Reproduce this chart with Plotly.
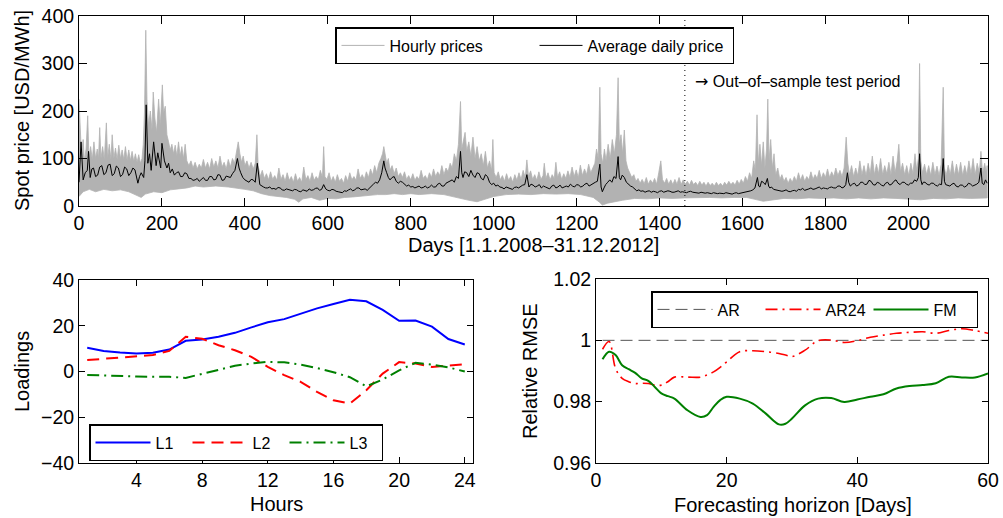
import plotly.graph_objects as go

# ---------------- Top panel: spot prices ----------------
avg_pts = [(0, 50), (5, 135), (10, 55), (15, 70), (20, 75), (23, 115), (27, 60), (31, 78), (35, 80), (40, 62), (45, 65), (50, 82), (55, 85), (60, 66), (65, 70), (70, 86),
           (75, 88), (80, 64), (85, 68), (90, 84), (95, 80), (100, 62), (105, 66), (110, 82), (115, 78), (120, 64), (125, 70), (130, 80), (135, 76), (142, 48),
           (146, 62), (150, 70), (156, 60), (159, 95), (162, 213), (166, 90), (170, 110), (174, 75), (180, 135), (186, 85), (190, 112), (193, 100), (197, 80), (200, 132),
           (206, 95), (212, 80), (216, 90), (220, 70), (225, 78), (230, 65), (235, 70), (240, 72), (245, 62), (250, 62), (255, 70), (260, 68), (265, 58), (270, 58), (275, 54),
           (280, 55), (285, 58), (290, 52), (295, 56), (300, 60), (305, 54), (310, 54), (315, 62), (320, 62), (325, 55), (330, 56), (335, 66), (340, 65), (345, 54),
           (350, 55), (355, 63), (360, 62), (365, 60), (370, 68), (376, 75), (382, 100), (386, 80), (390, 70), (395, 60), (400, 55), (405, 52), (410, 50), (415, 56),
           (420, 55), (425, 50), (430, 90), (436, 45), (440, 42), (445, 40), (450, 38), (455, 38), (460, 40), (465, 36), (470, 37), (475, 35), (480, 39), (485, 38),
           (490, 34), (495, 33), (500, 36), (505, 35), (510, 33), (515, 32), (520, 35), (525, 34), (530, 31), (535, 30), (540, 34), (545, 33), (550, 31), (555, 36),
           (560, 33), (565, 34), (570, 37), (575, 38), (580, 33), (585, 35), (590, 45), (595, 36), (600, 33), (605, 32), (610, 35), (615, 34), (620, 31), (625, 30),
           (630, 29), (635, 28), (640, 32), (645, 31), (650, 34), (655, 36), (660, 32), (665, 34), (670, 38), (675, 38), (680, 34), (685, 35), (690, 36), (695, 33),
           (700, 38), (705, 42), (710, 46), (715, 50), (720, 48), (725, 55), (730, 70), (735, 95), (738, 80), (742, 70), (746, 60), (750, 55), (755, 60), (760, 62),
           (765, 52), (770, 48), (775, 52), (780, 50), (785, 45), (790, 42), (795, 44), (800, 40), (805, 41), (810, 38), (815, 40), (820, 42), (825, 38), (830, 39),
           (835, 42), (840, 38), (845, 40), (850, 44), (855, 40), (860, 40), (865, 46), (870, 48), (875, 42), (880, 42), (885, 48), (890, 50), (895, 52), (900, 55),
           (905, 50), (910, 62), (915, 58), (920, 115), (923, 70), (926, 60), (930, 72), (935, 70), (940, 62), (945, 75), (950, 65), (955, 60), (960, 70), (965, 68),
           (970, 58), (975, 55), (980, 66), (985, 62), (990, 50), (995, 45), (1000, 48), (1005, 42), (1010, 44), (1015, 40), (1020, 39), (1025, 36), (1030, 40),
           (1035, 38), (1040, 36), (1045, 35), (1050, 39), (1055, 40), (1060, 38), (1065, 42), (1070, 44), (1075, 45), (1080, 66), (1085, 40), (1090, 46), (1095, 44),
           (1100, 40), (1105, 42), (1110, 45), (1115, 38), (1120, 42), (1125, 40), (1130, 38), (1135, 36), (1140, 42), (1145, 44), (1150, 38), (1155, 40), (1160, 44),
           (1165, 38), (1170, 40), (1175, 42), (1180, 40), (1185, 46), (1190, 42), (1195, 40), (1200, 45), (1205, 44), (1210, 40), (1215, 42), (1220, 46), (1225, 48),
           (1230, 42), (1235, 45), (1240, 48), (1245, 50), (1250, 52), (1256, 88), (1259, 40), (1262, 30), (1266, 38), (1270, 45), (1275, 50), (1280, 55), (1285, 50),
           (1290, 62), (1295, 58), (1300, 104), (1303, 60), (1306, 55), (1310, 65), (1315, 60), (1320, 50), (1325, 45), (1330, 42), (1335, 40), (1340, 36), (1345, 32),
           (1350, 34), (1355, 31), (1360, 32), (1365, 29), (1370, 31), (1375, 32), (1380, 29), (1385, 31), (1390, 30), (1395, 28), (1400, 31), (1405, 32), (1410, 29),
           (1415, 30), (1420, 32), (1425, 31), (1430, 29), (1435, 29), (1440, 31), (1445, 32), (1450, 29), (1455, 30), (1460, 29), (1465, 28), (1470, 30), (1475, 31),
           (1480, 29), (1485, 28), (1490, 28), (1495, 27), (1500, 29), (1505, 28), (1510, 27), (1515, 28), (1520, 27), (1525, 26), (1530, 28), (1535, 27), (1540, 26),
           (1545, 27), (1550, 27), (1555, 26), (1560, 28), (1565, 27), (1570, 26), (1575, 25), (1580, 27), (1585, 28), (1590, 26), (1595, 27), (1600, 28), (1605, 28),
           (1610, 29), (1615, 30), (1620, 32), (1625, 34), (1630, 38), (1636, 60), (1639, 42), (1642, 40), (1646, 52), (1650, 50), (1655, 45), (1660, 58), (1663, 42),
           (1666, 38), (1670, 40), (1675, 35), (1680, 34), (1685, 33), (1690, 32), (1695, 31), (1700, 32), (1705, 34), (1710, 31), (1715, 30), (1720, 32), (1725, 33),
           (1730, 31), (1735, 35), (1740, 34), (1745, 37), (1750, 33), (1755, 34), (1760, 36), (1765, 38), (1770, 35), (1775, 36), (1780, 38), (1785, 40), (1790, 36),
           (1795, 38), (1800, 37), (1805, 36), (1810, 39), (1815, 40), (1820, 38), (1825, 38), (1830, 42), (1835, 42), (1840, 38), (1845, 40), (1849, 45), (1853, 70),
           (1856, 50), (1860, 42), (1865, 46), (1870, 48), (1875, 42), (1880, 44), (1885, 50), (1890, 50), (1895, 45), (1900, 46), (1905, 54), (1910, 52), (1915, 45),
           (1920, 44), (1925, 50), (1930, 48), (1935, 44), (1940, 42), (1945, 48), (1950, 50), (1955, 44), (1960, 46), (1965, 52), (1970, 55), (1975, 48), (1980, 45),
           (1985, 50), (1990, 50), (1995, 46), (2000, 44), (2005, 48), (2010, 48), (2015, 55), (2020, 52), (2024, 60), (2027, 110), (2030, 55), (2033, 45), (2036, 50),
           (2040, 50), (2045, 46), (2050, 44), (2055, 48), (2060, 48), (2065, 44), (2070, 42), (2075, 46), (2080, 45), (2084, 100), (2087, 52), (2090, 45), (2095, 44),
           (2100, 42), (2105, 46), (2110, 48), (2115, 42), (2120, 40), (2125, 44), (2130, 44), (2135, 40), (2140, 42), (2145, 48), (2150, 46), (2155, 42), (2160, 44),
           (2165, 46), (2170, 50), (2175, 80), (2178, 48), (2182, 45), (2186, 55), (2190, 48)]

hi_pts = [(0, 225), (3, 150), (6, 105), (10, 140), (13, 95), (17, 120), (21, 190), (24, 100), (28, 125), (32, 98), (36, 135), (40, 100), (44, 120), (47, 100),
          (50, 165), (53, 100), (57, 125), (61, 98), (66, 175), (69, 100), (73, 130), (77, 98), (80, 150), (84, 100), (88, 122), (92, 98), (96, 128), (100, 100),
          (104, 118), (108, 98), (112, 125), (116, 96), (120, 118), (124, 96), (128, 115), (132, 94), (136, 110), (140, 92), (144, 108), (148, 90), (152, 100),
          (155, 130), (158, 200), (161, 370), (164, 220), (168, 170), (172, 200), (176, 160), (179, 240), (183, 185), (187, 155), (192, 225), (196, 170), (201, 255),
          (204, 195), (208, 210), (212, 150), (216, 135), (220, 118), (224, 130), (228, 110), (232, 128), (236, 105), (240, 135), (244, 105), (248, 125), (252, 100),
          (256, 130), (260, 95), (265, 85), (270, 95), (275, 80), (280, 92), (285, 78), (290, 88), (295, 80), (300, 98), (305, 80), (310, 92), (315, 78), (320, 100),
          (325, 82), (330, 95), (335, 80), (340, 105), (345, 82), (350, 92), (355, 78), (360, 98), (365, 82), (370, 100), (375, 90), (380, 120), (384, 135), (388, 110),
          (392, 92), (396, 105), (400, 85), (405, 95), (410, 80), (415, 92), (420, 78), (425, 90), (429, 150), (432, 85), (437, 62), (442, 75), (447, 58), (452, 68),
          (457, 55), (462, 72), (467, 56), (472, 64), (477, 54), (482, 80), (487, 56), (492, 66), (497, 52), (502, 70), (507, 54), (512, 62), (517, 50), (522, 68),
          (527, 52), (532, 60), (537, 50), (542, 82), (547, 55), (552, 64), (557, 52), (562, 70), (567, 54), (572, 62), (577, 55), (582, 75), (587, 60), (590, 125),
          (593, 62), (598, 56), (603, 70), (608, 52), (613, 62), (618, 50), (623, 66), (628, 52), (633, 58), (638, 48), (643, 64), (648, 52), (653, 70), (658, 55),
          (663, 62), (668, 54), (673, 78), (678, 58), (683, 66), (688, 56), (693, 72), (698, 60), (703, 78), (708, 65), (713, 85), (718, 70), (723, 90), (728, 100),
          (732, 110), (735, 125), (738, 105), (742, 90), (746, 100), (750, 75), (755, 85), (760, 68), (765, 80), (770, 62), (775, 70), (780, 60), (785, 72), (790, 56),
          (795, 64), (800, 55), (805, 68), (810, 54), (815, 62), (820, 56), (825, 75), (830, 58), (835, 64), (840, 55), (845, 70), (850, 60), (855, 78), (860, 62),
          (865, 72), (870, 64), (875, 85), (880, 66), (885, 80), (890, 72), (895, 90), (900, 80), (905, 110), (910, 95), (915, 130), (920, 220), (923, 120), (927, 140),
          (931, 155), (935, 115), (940, 135), (945, 105), (950, 145), (955, 100), (960, 125), (965, 95), (970, 110), (975, 85), (980, 115), (985, 80), (990, 95),
          (995, 75), (998, 140), (1001, 70), (1006, 60), (1011, 72), (1016, 55), (1021, 64), (1026, 52), (1031, 68), (1036, 54), (1041, 62), (1046, 50), (1051, 66),
          (1056, 54), (1061, 70), (1066, 56), (1071, 75), (1076, 60), (1080, 97), (1084, 62), (1089, 74), (1094, 56), (1099, 66), (1104, 54), (1109, 72), (1114, 56),
          (1119, 64), (1122, 90), (1126, 58), (1131, 70), (1136, 55), (1141, 66), (1146, 58), (1150, 92), (1154, 60), (1159, 72), (1164, 56), (1169, 68), (1174, 58),
          (1179, 74), (1184, 60), (1189, 82), (1194, 62), (1199, 76), (1204, 60), (1209, 86), (1214, 64), (1219, 78), (1224, 66), (1229, 88), (1234, 70), (1239, 82),
          (1244, 90), (1248, 120), (1252, 100), (1256, 250), (1259, 110), (1263, 90), (1267, 120), (1271, 95), (1276, 130), (1281, 100), (1286, 140), (1291, 110),
          (1296, 150), (1300, 270), (1303, 130), (1307, 150), (1311, 110), (1315, 160), (1319, 95), (1323, 80), (1328, 70), (1333, 60), (1338, 66), (1343, 52),
          (1348, 58), (1353, 48), (1358, 56), (1363, 47), (1368, 60), (1373, 46), (1378, 55), (1383, 48), (1388, 58), (1393, 46), (1398, 70), (1403, 95), (1407, 56),
          (1412, 48), (1417, 58), (1422, 46), (1427, 55), (1432, 45), (1437, 56), (1442, 46), (1447, 60), (1452, 45), (1457, 55), (1462, 46), (1467, 52), (1472, 44),
          (1477, 54), (1482, 45), (1487, 50), (1492, 43), (1497, 52), (1502, 44), (1507, 50), (1512, 42), (1517, 50), (1522, 43), (1527, 48), (1532, 42), (1537, 50),
          (1542, 43), (1547, 48), (1552, 42), (1557, 50), (1562, 44), (1567, 52), (1572, 45), (1577, 50), (1582, 44), (1587, 54), (1592, 46), (1597, 56), (1602, 48),
          (1607, 62), (1612, 52), (1617, 70), (1622, 58), (1627, 95), (1631, 75), (1635, 192), (1638, 90), (1642, 130), (1646, 85), (1650, 135), (1654, 80),
          (1658, 120), (1661, 225), (1664, 95), (1668, 140), (1672, 80), (1676, 110), (1680, 65), (1685, 80), (1690, 56), (1695, 66), (1700, 52), (1705, 60),
          (1710, 48), (1715, 58), (1720, 50), (1725, 62), (1730, 52), (1735, 70), (1740, 54), (1745, 66), (1750, 52), (1755, 62), (1760, 55), (1765, 72), (1770, 56),
          (1775, 66), (1780, 58), (1785, 75), (1790, 58), (1795, 70), (1800, 60), (1805, 78), (1810, 60), (1815, 72), (1820, 62), (1825, 80), (1830, 64), (1835, 75),
          (1840, 62), (1845, 80), (1850, 145), (1854, 90), (1858, 66), (1863, 85), (1868, 62), (1873, 80), (1878, 64), (1883, 95), (1888, 66), (1893, 85), (1898, 64),
          (1903, 90), (1908, 68), (1913, 105), (1918, 66), (1923, 88), (1928, 68), (1933, 100), (1938, 66), (1943, 85), (1948, 68), (1953, 92), (1958, 66), (1963, 105),
          (1968, 70), (1973, 95), (1977, 130), (1981, 72), (1986, 90), (1991, 66), (1996, 85), (2001, 64), (2006, 90), (2011, 68), (2016, 110), (2020, 75), (2024, 100),
          (2027, 300), (2030, 95), (2034, 70), (2039, 88), (2044, 66), (2049, 85), (2054, 64), (2059, 92), (2064, 66), (2069, 84), (2074, 64), (2079, 88), (2084, 250),
          (2087, 80), (2091, 64), (2096, 86), (2101, 66), (2106, 95), (2111, 64), (2116, 88), (2121, 66), (2126, 92), (2131, 64), (2136, 85), (2141, 66), (2146, 95),
          (2151, 68), (2156, 100), (2161, 66), (2166, 90), (2171, 70), (2175, 115), (2179, 68), (2184, 90), (2188, 70), (2190, 85)]

lo_pts = [(0, 20), (10, 30), (25, 35), (40, 30), (60, 35), (80, 32), (100, 34), (120, 30), (140, 22), (150, 18), (160, 25), (180, 30), (200, 28), (220, 34),
          (240, 36), (260, 38), (280, 42), (300, 40), (330, 42), (360, 40), (380, 38), (400, 35), (420, 32), (440, 26), (460, 22), (480, 20), (500, 18), (520, 14),
          (530, 8), (540, 15), (560, 18), (580, 12), (600, 16), (620, 15), (640, 18), (660, 19), (680, 20), (700, 22), (720, 24), (740, 24), (760, 26), (780, 24),
          (800, 26), (820, 24), (850, 26), (880, 24), (900, 20), (920, 16), (940, 12), (960, 9), (980, 14), (1000, 20), (1030, 24), (1060, 25), (1090, 24),
          (1120, 26), (1150, 25), (1180, 26), (1210, 24), (1240, 18), (1255, 8), (1262, 2), (1275, 6), (1290, 9), (1310, 12), (1340, 16), (1370, 15), (1400, 17),
          (1430, 16), (1460, 17), (1490, 18), (1520, 18), (1550, 17), (1580, 18), (1610, 18), (1630, 14), (1650, 10), (1670, 13), (1700, 16), (1730, 15), (1760, 17),
          (1790, 16), (1820, 17), (1850, 15), (1880, 17), (1910, 15), (1940, 17), (1970, 16), (2000, 15), (2030, 13), (2060, 16), (2090, 15), (2120, 17), (2150, 16),
          (2190, 17)]

avg_days = [d for d, _ in avg_pts]
avg_price = [v for _, v in avg_pts]
hi_days = [d for d, _ in hi_pts]
hi_price = [v for _, v in hi_pts]
lo_days = [d for d, _ in lo_pts]
lo_price = [v for _, v in lo_pts]

test_start = 1461

# ---------------- Bottom-left: loadings ----------------
hours = list(range(1, 25))
L1 = [10.4, 9.0, 8.3, 7.9, 8.2, 9.6, 13.4, 14.0, 15.2, 16.9, 19.3, 21.5, 22.9, 25.4, 27.6, 29.5, 31.4, 30.7, 26.9, 22.2, 22.3, 19.6, 14.2, 11.8]
L2 = [5.0, 5.5, 6.1, 6.7, 7.2, 9.0, 15.2, 14.3, 11.5, 9.3, 6.4, 2.0, -1.6, -4.5, -8.9, -12.6, -14.0, -8.2, -0.9, 4.1, 3.5, 2.0, 2.6, 3.2]
L3 = [-1.5, -1.8, -2.0, -2.2, -2.3, -2.3, -2.8, -1.0, 1.0, 2.5, 3.5, 4.2, 4.0, 3.0, 1.5, -0.3, -2.5, -6.5, -3.5, 0.5, 3.8, 3.0, 1.8, 0.0]

# ---------------- Bottom-right: relative RMSE ----------------
horizon = [1, 2, 3, 4, 5, 6, 7, 8, 9, 10, 11, 12, 14, 16, 17, 18, 19, 20, 22, 24, 26, 28, 29, 30, 32, 34, 36, 38, 40, 42, 44, 46, 48, 50, 52, 54, 56, 58, 60]
ar = [1.0] * len(horizon)
ar24 = [0.9971, 0.9996, 0.9908, 0.9876, 0.9865, 0.9859, 0.9860, 0.9859, 0.9854, 0.9854, 0.9865, 0.9880, 0.9880, 0.9880, 0.9887, 0.9897, 0.9912, 0.9930, 0.9963,
        0.9966, 0.9963, 0.9957, 0.9952, 0.9947, 0.9968, 0.9999, 1.0001, 0.9993, 0.9999, 1.0010, 1.0017, 1.0023, 1.0026, 1.0028, 1.0023, 1.0032, 1.0038, 1.0032, 1.0023]
fm = [0.9938, 0.9963, 0.9952, 0.9919, 0.9906, 0.9894, 0.9876, 0.9868, 0.9848, 0.9827, 0.9818, 0.9810, 0.9772, 0.9750, 0.9756, 0.9783, 0.9805, 0.9816, 0.9810,
      0.9794, 0.9761, 0.9726, 0.9728, 0.9745, 0.9788, 0.9810, 0.9812, 0.9799, 0.9807, 0.9816, 0.9824, 0.9843, 0.9851, 0.9854, 0.9860, 0.9881, 0.9879, 0.9879, 0.9892]

FONT = "Liberation Sans, Arial, sans-serif"
W, H = 1003, 518
GRAY = "#b2b2b2"
TICK = 19.5
TITLE = 20


def px(x):
    return x / W


def py(y):
    return 1 - y / H


fig = go.Figure()

# hourly envelope as filled polygon
fig.add_trace(go.Scatter(
    x=hi_days + lo_days[::-1], y=hi_price + lo_price[::-1],
    fill="toself", fillcolor=GRAY, line=dict(color=GRAY, width=0.8),
    mode="lines", showlegend=False, hoverinfo="skip", xaxis="x", yaxis="y"))
fig.add_trace(go.Scatter(x=avg_days, y=avg_price, mode="lines", name="Average daily price",
                         line=dict(color="black", width=1), legend="legend", legendrank=2, xaxis="x", yaxis="y"))

# loadings
fig.add_trace(go.Scatter(x=hours, y=L1, mode="lines", name="L1", line=dict(color="#0000ff", width=2),
                         legend="legend2", xaxis="x2", yaxis="y2"))
fig.add_trace(go.Scatter(x=hours, y=L2, mode="lines", name="L2", line=dict(color="#ff0000", width=2, dash="12px,7px"),
                         legend="legend2", xaxis="x2", yaxis="y2"))
fig.add_trace(go.Scatter(x=hours, y=L3, mode="lines", name="L3", line=dict(color="#008000", width=2, dash="12px,5px,2px,5px"),
                         legend="legend2", xaxis="x2", yaxis="y2"))

# RMSE
fig.add_trace(go.Scatter(x=horizon, y=ar, mode="lines", name="AR", line=dict(color="#555555", width=1, dash="12px,6px"),
                         legend="legend3", xaxis="x3", yaxis="y3"))
fig.add_trace(go.Scatter(x=horizon, y=ar24, mode="lines", name="AR24", line=dict(color="#ff0000", width=1.6, dash="12px,5px,2px,5px"),
                         legend="legend3", xaxis="x3", yaxis="y3", line_shape="spline"))
fig.add_trace(go.Scatter(x=horizon, y=fm, mode="lines", name="FM", line=dict(color="#008000", width=2),
                         legend="legend3", xaxis="x3", yaxis="y3", line_shape="spline"))

# legend entry for hourly prices (line symbol)
fig.add_trace(go.Scatter(x=[None], y=[None], mode="lines", name="Hourly prices",
                         line=dict(color=GRAY, width=1), legend="legend", legendrank=1, xaxis="x", yaxis="y"))


def ax(domain, rng, tickvals, ticktext=None, ticklen=6, anchor=None):
    d = dict(domain=domain, range=rng, tickvals=tickvals, showline=True, mirror="ticks",
             linecolor="black", linewidth=1, ticks="inside", ticklen=ticklen, tickcolor="black",
             showgrid=False, zeroline=False, tickfont=dict(size=TICK, color="black", family=FONT),
             anchor=anchor)
    if ticktext is not None:
        d["ticktext"] = ticktext
    return d


def leg(x, y, ew, iw=55):
    return dict(orientation="h", x=px(x), y=py(y), xanchor="left", yanchor="top",
                bordercolor="black", borderwidth=1.5, bgcolor="white", font=dict(size=16),
                entrywidth=ew, entrywidthmode="pixels", traceorder="normal", itemwidth=iw)


def title(text, x, y, angle=0):
    return dict(text=text, xref="paper", yref="paper", x=px(x), y=py(y), textangle=angle,
                showarrow=False, font=dict(size=TITLE), xanchor="center", yanchor="middle")


fig.update_layout(
    width=W, height=H, margin=dict(l=0, r=0, t=0, b=0, autoexpand=False),
    paper_bgcolor="white", plot_bgcolor="white",
    font=dict(family=FONT, color="black", size=16),
    xaxis=ax([px(79), px(988)], [0, 2192], list(range(0, 2001, 200)), ticklen=8, anchor="y"),
    yaxis=ax([py(206), py(16)], [0, 400], [0, 100, 200, 300, 400], ticklen=8, anchor="x"),
    xaxis2=ax([px(79), px(473)], [0.5, 24.5], [4, 8, 12, 16, 20, 24], anchor="y2"),
    yaxis2=ax([py(463), py(280)], [-40, 40], [-40, -20, 0, 20, 40], anchor="x2"),
    xaxis3=ax([px(596), px(988)], [0, 60], [0, 20, 40, 60], anchor="y3"),
    yaxis3=ax([py(463), py(279)], [0.96, 1.02], [0.96, 0.98, 1.0, 1.02], ["0.96", "0.98", "1", "1.02"], anchor="x3"),
    legend=leg(335, 27, 140, iw=43),
    legend2=leg(89, 424, 27),
    legend3=leg(651, 291, 38),
    shapes=[dict(type="line", xref="x", yref="y", x0=test_start, x1=test_start, y0=0, y1=400,
                 line=dict(color="black", width=1, dash="1px,4px"))],
    annotations=[
        dict(text="<span style='font-family:DejaVu Sans'>→</span> Out–of–sample test period", xref="x", yref="y",
             x=test_start + 20, y=263, xanchor="left", yanchor="middle", showarrow=False, font=dict(size=16)),
        title("Spot price [USD/MWh]", 22, 111, -90),
        title("Days [1.1.2008–31.12.2012]", 533, 245),
        title("Loadings", 22, 372, -90),
        title("Hours", 276, 504),
        title("Relative RMSE", 530, 371, -90),
        title("Forecasting horizon [Days]", 793, 505),
    ],
)

# remove the default 8px page margin so the 1003x518 figure fills the window exactly
fig.write_html("out.html", config={"displayModeBar": False},
               post_script="document.body.style.margin='0px';document.body.style.overflow='hidden';")
